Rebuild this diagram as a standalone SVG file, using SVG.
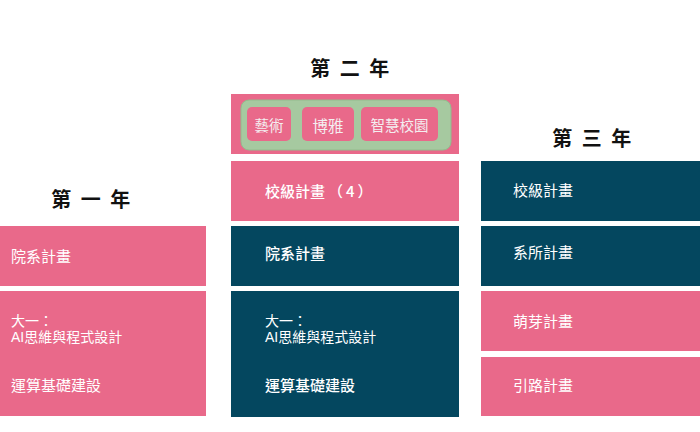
<svg xmlns="http://www.w3.org/2000/svg" width="700" height="432" viewBox="0 0 700 432">
<style>
text{font-family:"Noto Sans CJK TC","Noto Sans CJK SC",sans-serif;}
.title{font-size:20px;font-weight:bold;fill:#111;text-anchor:middle;}
.pink{fill:#E9698A;}
.dark{fill:#04475F;}
.lbl{font-size:15px;fill:#fff;}
.lblb{font-size:15px;fill:#fff;font-weight:500;}
.sm{font-size:14px;fill:#fff;font-family:"Liberation Sans","Noto Sans CJK TC",sans-serif;}
.pill{fill:#E9698A;}
.ptxt{font-size:14.5px;fill:#f4eef0;text-anchor:middle;}
</style>
<rect width="700" height="432" fill="#fff"/>
<g id="titles">
<text class="title" x="92" y="207" letter-spacing="2.5">第 一 年</text>
<text class="title" x="351" y="76" letter-spacing="2.5">第 二 年</text>
<text class="title" x="593" y="146" letter-spacing="2.5">第 三 年</text>
</g>
<g id="year1">
<g id="y1-dept"><rect class="pink" x="0" y="226" width="206" height="60"/><text class="lbl" x="11" y="262">院系計畫</text></g>
<g id="y1-ai"><rect class="pink" x="0" y="291" width="206" height="125"/>
<text class="sm" x="11" y="326">大一：</text>
<text class="sm" x="11" y="342">AI思維與程式設計</text>
<text class="lbl" x="11" y="391">運算基礎建設</text></g>
</g>
<g id="year2">
<g id="y2-gen"><rect class="pink" x="231" y="94" width="228" height="60"/>
<rect x="241" y="100" width="210" height="50" rx="8" fill="#A6C9A0" stroke="#94BB8D" stroke-width="1"/>
<rect class="pill" x="247" y="107" width="44" height="34" rx="5"/><text class="ptxt" x="269" y="131">藝術</text>
<rect class="pill" x="302" y="107" width="52" height="34" rx="5"/><text class="ptxt" x="328" y="132" style="font-size:15.5px">博雅</text>
<rect class="pill" x="361" y="107" width="77" height="34" rx="5"/><text class="ptxt" x="399.5" y="131">智慧校園</text></g>
<g id="y2-school"><rect class="pink" x="231" y="161" width="228" height="60"/><text class="lblb" x="265" y="197">校級計畫<tspan dx="3" letter-spacing="3">（4）</tspan></text></g>
<g id="y2-dept"><rect class="dark" x="231" y="226" width="228" height="60"/><text class="lblb" x="265" y="259">院系計畫</text></g>
<g id="y2-ai"><rect class="dark" x="231" y="291" width="228" height="126"/>
<text class="sm" x="265" y="326">大一：</text>
<text class="sm" x="265" y="342">AI思維與程式設計</text>
<text class="lblb" x="265" y="391">運算基礎建設</text></g>
</g>
<g id="year3">
<g id="y3-school"><rect class="dark" x="481" y="161" width="219" height="60"/><text class="lbl" x="513" y="196">校級計畫</text></g>
<g id="y3-dept"><rect class="dark" x="481" y="226" width="219" height="60"/><text class="lbl" x="513" y="258">系所計畫</text></g>
<g id="y3-sprout"><rect class="pink" x="481" y="291" width="219" height="60"/><text class="lbl" x="513" y="327">萌芽計畫</text></g>
<g id="y3-guide"><rect class="pink" x="481" y="357" width="219" height="59"/><text class="lbl" x="513" y="391">引路計畫</text></g>
</g>
<g id="connectors"/>
</svg>
